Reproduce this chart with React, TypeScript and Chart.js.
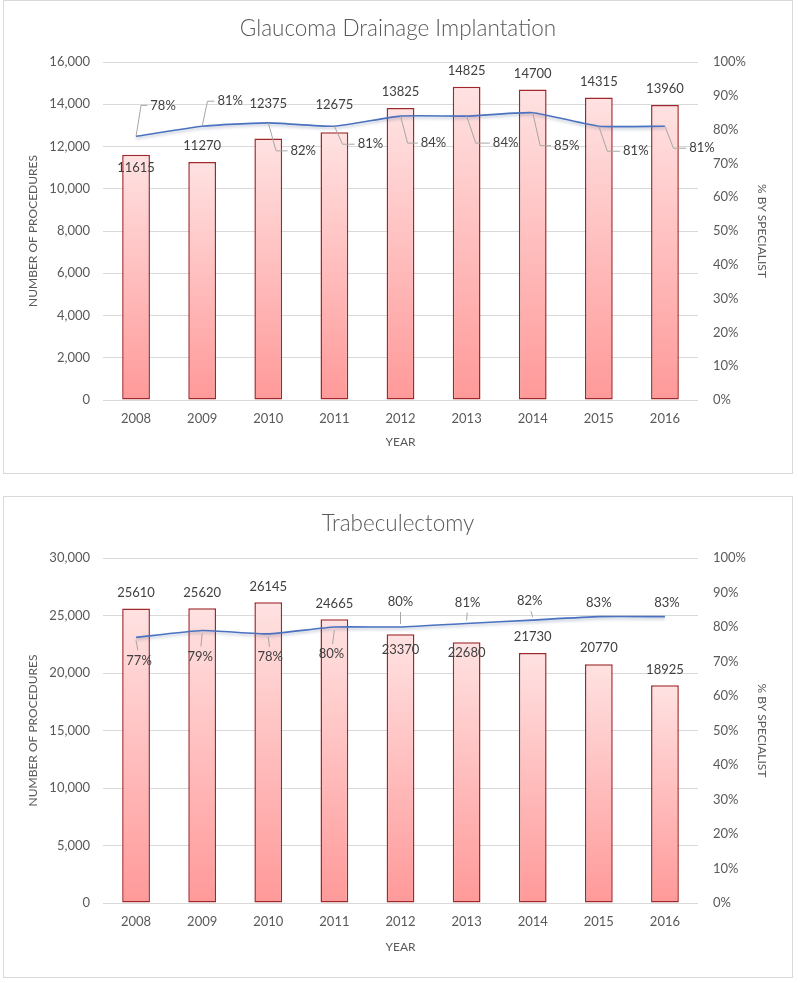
import React, { useEffect, useRef } from 'react';
import { Chart, registerables } from 'chart.js';

Chart.register(...registerables);

// ---------- data ----------
const years = ['2008', '2009', '2010', '2011', '2012', '2013', '2014', '2015', '2016'];

const gdiTitle = 'Glaucoma Drainage Implantation';
const gdiProcedures = [11615, 11270, 12375, 12675, 13825, 14825, 14700, 14315, 13960];
const gdiSpecialistPct = [78, 81, 82, 81, 84, 84, 85, 81, 81];

const trabTitle = 'Trabeculectomy';
const trabProcedures = [25610, 25620, 26145, 24665, 23370, 22680, 21730, 20770, 18925];
const trabSpecialistPct = [77, 79, 78, 80, 80, 81, 82, 83, 83];

const leftAxisTitle = 'NUMBER OF PROCEDURES';
const rightAxisTitle = '% BY SPECIALIST';
const xAxisTitle = 'YEAR';

// ---------- label placement (pixels, layout only) ----------
const gdiBarLabelDy = [13, -16, -35, -27, -16, -16, -16, -16, -16];
const gdiPctLabelDx = [27, 28, 35, 36, 33, 39, 34, 37, 37];
const gdiPctLabelDy = [-31, -25, 28, 18, 27, 27, 33, 25, 22];

const trabBarLabelDy = [-16, -16, -16, -16, 16, 11, -16, -16, -16];
const trabPctLabelDx = [3, -2, 2, -3, 0, 1, -3, 0, 2];
const trabPctLabelDy = [23, 26, 23, 27, -25, -21, -19, -14, -14];

const FONT = 'Lato';
const TEXT = '#595959';
const LABEL = '#404040';

const labelPlugin = {
  id: 'excelLabels',
  afterDatasetsDraw(chart: any, _args: any, opts: any) {
    const ctx = chart.ctx;
    const barMeta = chart.getDatasetMeta(0);
    const lineMeta = chart.getDatasetMeta(1);
    const bars = chart.data.datasets[0].data;
    const pcts = chart.data.datasets[1].data;
    ctx.save();
    ctx.font = `13px ${FONT}`;
    ctx.textAlign = 'center';
    ctx.textBaseline = 'middle';
    ctx.fillStyle = LABEL;
    barMeta.data.forEach((el: any, i: number) => {
      ctx.fillText(String(bars[i]), el.x, el.y + opts.barDy[i]);
    });
    lineMeta.data.forEach((pt: any, i: number) => {
      const text = pcts[i] + '%';
      const w = ctx.measureText(text).width;
      const lx = pt.x + opts.pctDx[i];
      const ly = pt.y + opts.pctDy[i];
      ctx.strokeStyle = '#a6a6a6';
      ctx.lineWidth = 1;
      if (opts.leader === 'elbow') {
        const left = lx - w / 2;
        const ex = pt.x + (left - pt.x) * 0.35;
        ctx.beginPath();
        ctx.moveTo(pt.x, pt.y);
        ctx.lineTo(ex, ly);
        ctx.lineTo(left - 3, ly);
        ctx.stroke();
      } else {
        const sign = Math.sign(opts.pctDy[i]);
        const sy = pt.y + sign * 3;
        const ey = ly - sign * 10;
        if ((ey - sy) * sign > 3) {
          ctx.beginPath();
          ctx.moveTo(pt.x, sy);
          ctx.lineTo(pt.x + (lx - pt.x) * 0.6, ey);
          ctx.stroke();
        }
      }
      ctx.fillText(text, lx, ly);
    });
    ctx.restore();
  },
};

const shadowPlugin = {
  id: 'lineShadow',
  beforeDatasetDraw(chart: any, args: any) {
    if (args.index === 1) {
      const ctx = chart.ctx;
      ctx.save();
      ctx.shadowColor = 'rgba(60,80,120,0.35)';
      ctx.shadowBlur = 3;
      ctx.shadowOffsetY = 2;
    }
  },
  afterDatasetDraw(chart: any, args: any) {
    if (args.index === 1) chart.ctx.restore();
  },
};

type Props = {
  title: string;
  bars: number[];
  pcts: number[];
  yMax: number;
  yStep: number;
  barDy: number[];
  pctDx: number[];
  pctDy: number[];
  leader: string;
  top: number;
  height: number;
  titlePad: { top: number; bottom: number };
  xAxisHeight: number;
  xTitlePad: number;
};

function ComboChart(p: Props) {
  const ref = useRef<HTMLCanvasElement>(null);
  const cw = 788;
  const ch = p.height - 2;
  useEffect(() => {
    const canvas = ref.current!;
    const chart = new Chart(canvas, {
      data: {
        labels: years,
        datasets: [
          {
            type: 'bar',
            data: p.bars,
            yAxisID: 'y',
            order: 1,
            barPercentage: 0.42,
            categoryPercentage: 1,
            borderColor: '#a0282b',
            borderWidth: 1.5,
            borderSkipped: false,
            backgroundColor: (c: any) => {
              const chart = c.chart;
              if (!chart.chartArea || c.dataIndex === undefined) return '#ffc4c4';
              const ys = chart.scales.y;
              const v = c.dataset.data[c.dataIndex];
              const t = ys.getPixelForValue(v);
              const b = ys.getPixelForValue(0);
              const g = chart.ctx.createLinearGradient(0, t, 0, b);
              g.addColorStop(0, '#ffe2e2');
              g.addColorStop(1, '#ff9999');
              return g;
            },
          } as any,
          {
            type: 'line',
            data: p.pcts,
            yAxisID: 'y1',
            order: 0,
            borderColor: '#4a72c0',
            borderWidth: 1.6,
            pointRadius: 0,
            tension: 0.15,
            fill: false,
          } as any,
        ],
      },
      options: {
        animation: false,
        responsive: false,
        maintainAspectRatio: false,
        layout: { padding: 0 },
        font: { family: FONT },
        plugins: {
          legend: { display: false },
          tooltip: { enabled: false },
          title: {
            display: true,
            text: p.title,
            color: TEXT,
            font: { family: FONT, size: 22.5, weight: '300' as any, lineHeight: 1.2 },
            padding: p.titlePad,
          },
          excelLabels: { barDy: p.barDy, pctDx: p.pctDx, pctDy: p.pctDy, leader: p.leader },
        } as any,
        scales: {
          x: {
            grid: { display: false, drawTicks: false },
            border: { display: false },
            ticks: { color: TEXT, padding: 11, font: { family: FONT, size: 13 } },
            title: {
              display: true,
              text: xAxisTitle,
              color: TEXT,
              font: { family: FONT, size: 12 },
              padding: { top: 0, bottom: p.xTitlePad },
            },
            afterFit: (s: any) => {
              s.height = p.xAxisHeight;
            },
          },
          y: {
            position: 'left',
            min: 0,
            max: p.yMax,
            grid: { color: '#d9d9d9', drawTicks: false },
            border: { display: false },
            ticks: {
              stepSize: p.yStep,
              color: TEXT,
              padding: 13,
              font: { family: FONT, size: 13 },
              callback: (v: any) => Number(v).toLocaleString('en-US'),
            },
            title: {
              display: true,
              text: leftAxisTitle,
              color: TEXT,
              font: { family: FONT, size: 12 },
              padding: { top: 22, bottom: 0 },
            },
            afterFit: (s: any) => {
              s.width = 99;
            },
          },
          y1: {
            position: 'right',
            min: 0,
            max: 100,
            grid: { display: false, drawTicks: false },
            border: { display: false },
            ticks: {
              stepSize: 10,
              color: TEXT,
              padding: 15,
              font: { family: FONT, size: 13 },
              callback: (v: any) => v + '%',
            },
            title: {
              display: true,
              text: rightAxisTitle,
              color: TEXT,
              font: { family: FONT, size: 12 },
              padding: { top: 23, bottom: 0 },
            },
            afterFit: (s: any) => {
              s.width = 94;
            },
          },
        },
      } as any,
      plugins: [labelPlugin, shadowPlugin],
    });
    return () => chart.destroy();
  }, []);
  return (
    <div
      style={{
        position: 'absolute',
        left: 3,
        top: p.top,
        width: 790,
        height: p.height,
        border: '1px solid #d9d9d9',
        boxSizing: 'border-box',
        background: '#fff',
      }}
    >
      <canvas ref={ref} width={cw} height={ch} style={{ display: 'block', width: cw, height: ch }} />
    </div>
  );
}

export default function App() {
  return (
    <div>
      <ComboChart
        title={gdiTitle}
        bars={gdiProcedures}
        pcts={gdiSpecialistPct}
        yMax={16000}
        yStep={2000}
        barDy={gdiBarLabelDy}
        pctDx={gdiPctLabelDx}
        pctDy={gdiPctLabelDy}
        leader="elbow"
        top={0}
        height={474}
        titlePad={{ top: 14, bottom: 20 }}
        xAxisHeight={73}
        xTitlePad={24}
      />
      <ComboChart
        title={trabTitle}
        bars={trabProcedures}
        pcts={trabSpecialistPct}
        yMax={30000}
        yStep={5000}
        barDy={trabBarLabelDy}
        pctDx={trabPctLabelDx}
        pctDy={trabPctLabelDy}
        leader="straight"
        top={496}
        height={482}
        titlePad={{ top: 13, bottom: 21 }}
        xAxisHeight={74}
        xTitlePad={23}
      />
    </div>
  );
}
